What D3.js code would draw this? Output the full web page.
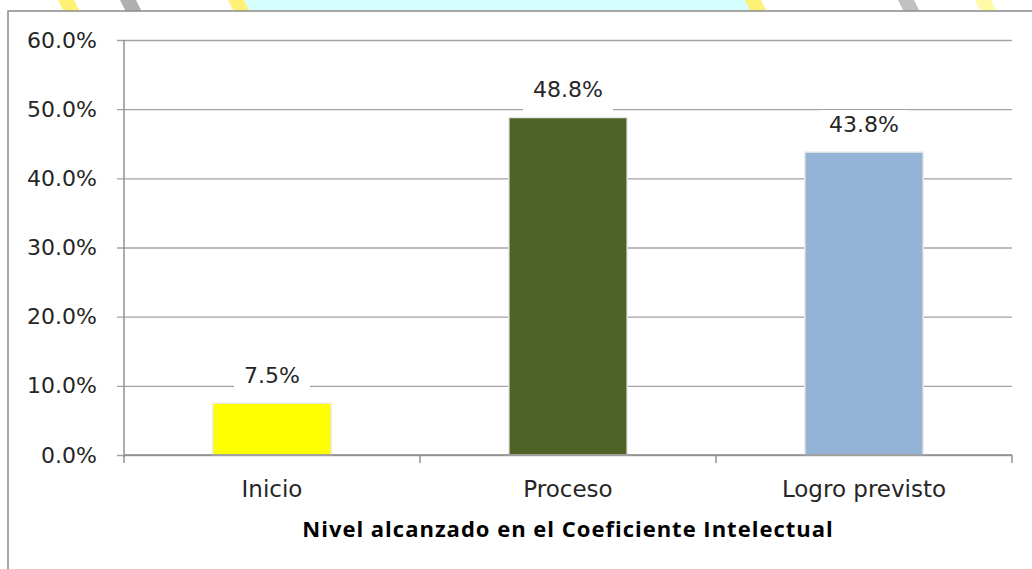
<!DOCTYPE html>
<html>
<head>
<meta charset="utf-8">
<script src="https://cdn.jsdelivr.net/npm/d3@7"></script>
<style>
  body { margin: 0; background: #ffffff; }
  #chart-area { width: 1032px; height: 569px; }
</style>
</head>
<body>
<div id="chart-area"></div>
<script>
var categories = ["Inicio", "Proceso", "Logro previsto"];
var values = [7.5, 48.8, 43.8];
var barColors = ["#ffff00", "#4f6228", "#95b3d7"];
var yTicks = [0, 10, 20, 30, 40, 50, 60];
var axisTitle = "Nivel alcanzado en el Coeficiente Intelectual";

var formatP = function(v){ return d3.format(".1f")(v) + "%"; };

var W = 1032, H = 569;
var margin = {left:124, right:20, top:40, bottom:114};
var width = W - margin.left - margin.right;
var height = H - margin.top - margin.bottom;

var svg = d3.select("#chart-area")
    .append("svg")
    .attr("width", W)
    .attr("height", H);

// watermark strip on top of the picture
svg.append("rect")
    .attr("x", 0).attr("y", 0)
    .attr("width", W).attr("height", 12)
    .attr("fill", "#ffffff");
svg.append("rect")
    .attr("x", 245).attr("y", 0)
    .attr("width", 505).attr("height", 12)
    .attr("fill", "#d6fefe");
var stripes = [
    {x:58, c:"#fff176"}, {x:228, c:"#fff176"}, {x:745, c:"#fff176"},
    {x:975, c:"#fff9a8"}, {x:120, c:"#b0b0b0"}, {x:898, c:"#c0c0c0"}
];
svg.selectAll(".stripe")
    .data(stripes)
    .enter()
    .append("polygon")
    .attr("class", "stripe")
    .attr("points", function(d){
        return (d.x) + ",0 " + (d.x + 16) + ",0 " + (d.x + 22) + ",12 " + (d.x + 6) + ",12";
    })
    .attr("fill", function(d){ return d.c; });

// chart frame
svg.append("rect")
    .attr("x", 8).attr("y", 11)
    .attr("width", W).attr("height", H)
    .attr("fill", "#ffffff")
    .attr("stroke", "#8a8a8a")
    .attr("stroke-width", 1.5);

var g = svg.append("g")
    .attr("transform", "translate(" + margin.left + "," + margin.top + ")");

var x = d3.scaleBand()
    .domain(categories)
    .range([0, width])
    .paddingInner(0.6)
    .paddingOuter(0.3);

var y = d3.scaleLinear()
    .domain([0, 60])
    .range([height, 0]);

// gridlines + y axis
var yAxisCall = d3.axisLeft(y)
    .tickValues(yTicks)
    .tickSize(-width - 0)
    .tickPadding(20)
    .tickFormat(formatP);

var yAxis = g.append("g")
    .attr("class", "yaxis")
    .call(yAxisCall);
yAxis.select(".domain").remove();
yAxis.selectAll("line")
    .attr("x1", -7)
    .attr("stroke", "#a3a3a3")
    .attr("stroke-width", 1.4);
yAxis.selectAll("text")
    .attr("x", -27)
    .attr("font-family", "DejaVu Sans")
    .attr("font-size", "22px")
    .attr("fill", "#262626");

g.append("line")
    .attr("x1", 0).attr("x2", 0)
    .attr("y1", 0).attr("y2", height + 2)
    .attr("stroke", "#8c8c8c")
    .attr("stroke-width", 1.4);

// bars
g.selectAll(".bar")
    .data(values)
    .enter()
    .append("rect")
    .attr("class", "bar")
    .attr("x", function(d, i){ return x(categories[i]); })
    .attr("y", function(d){ return y(d); })
    .attr("width", x.bandwidth())
    .attr("height", function(d){ return height - y(d); })
    .attr("fill", function(d, i){ return barColors[i]; })
    .attr("stroke", "#ececec")
    .attr("stroke-width", 1.5);

// x axis
var step = x.step();
var xAxis = g.append("g")
    .attr("class", "xaxis")
    .attr("transform", "translate(0," + height + ")");
xAxis.append("line")
    .attr("x1", 0).attr("x2", width)
    .attr("stroke", "#8c8c8c")
    .attr("stroke-width", 1.4);
xAxis.selectAll(".tick")
    .data(d3.range(categories.length + 1))
    .enter()
    .append("line")
    .attr("class", "tick")
    .attr("x1", function(d){ return d * step; })
    .attr("x2", function(d){ return d * step; })
    .attr("y1", 0).attr("y2", 8)
    .attr("stroke", "#8c8c8c")
    .attr("stroke-width", 1.4);
xAxis.selectAll(".cat")
    .data(categories)
    .enter()
    .append("text")
    .attr("class", "cat")
    .attr("x", function(d){ return x(d) + x.bandwidth() / 2; })
    .attr("y", 42)
    .attr("text-anchor", "middle")
    .attr("font-family", "DejaVu Sans")
    .attr("font-size", "23px")
    .attr("fill", "#262626")
    .text(function(d){ return d; });

// axis title
g.append("text")
    .attr("class", "x axis-label")
    .attr("x", width / 2)
    .attr("y", height + 82)
    .attr("text-anchor", "middle")
    .attr("font-family", "Open Sans")
    .attr("font-weight", "bold")
    .attr("font-size", "22px")
    .attr("letter-spacing", "1px")
    .attr("fill", "#000000")
    .text(axisTitle);

// data labels with white box
var labels = g.selectAll(".dlabel")
    .data(values)
    .enter()
    .append("g")
    .attr("class", "dlabel");
labels.append("rect")
    .attr("fill", "#ffffff");
labels.append("text")
    .attr("x", function(d, i){ return x(categories[i]) + x.bandwidth() / 2; })
    .attr("y", function(d){ return y(d) - 20; })
    .attr("text-anchor", "middle")
    .attr("font-family", "DejaVu Sans")
    .attr("font-size", "22px")
    .attr("fill", "#262626")
    .text(function(d){ return formatP(d); });
labels.each(function(){
    var t = d3.select(this).select("text");
    var bb = t.node().getBBox();
    d3.select(this).select("rect")
        .attr("x", bb.x - 10)
        .attr("y", bb.y - 2)
        .attr("width", bb.width + 20)
        .attr("height", bb.height + 12);
});
</script>
</body>
</html>
